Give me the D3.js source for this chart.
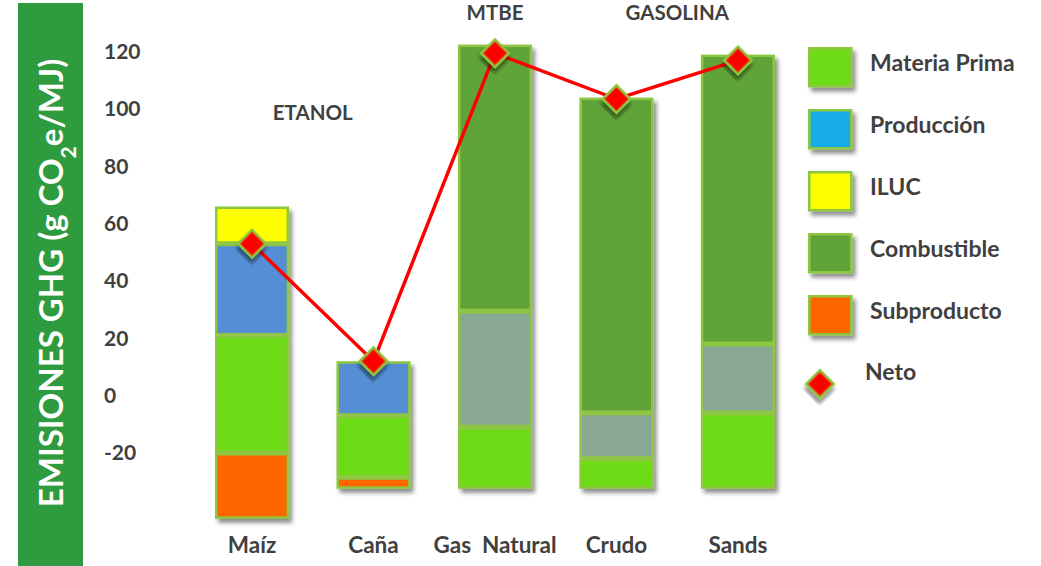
<!DOCTYPE html>
<html>
<head>
<meta charset="utf-8">
<script src="https://cdn.jsdelivr.net/npm/d3@7"></script>
<style>
  body{margin:0;background:#fff;}
  svg{display:block;font-family:Lato,"Open Sans",sans-serif;font-weight:bold;}
</style>
</head>
<body>
<svg id="chart" width="1041" height="566"></svg>
<script>
// categories and group titles
const categories=["Maíz","Caña","Gas  Natural","Crudo","Sands"];
const groupNames=["ETANOL","MTBE","GASOLINA"];
const groupMembers=[["Maíz","Caña"],["Gas  Natural"],["Crudo","Sands"]];
const yTicks=[120,100,80,60,40,20,0,-20];

// each segment is [bottom, top] in g CO2e/MJ, null where absent
const materiaPrima=[[-20,21],[-28.5,-7],[-32.5,-11],[-32.5,-22],[-32.5,-6]];
const produccion=[[21,53],[-7,12],null,null,null];
const iluc=[[53,66],null,null,null,null];
const intermedio=[null,null,[-11,29.5],[-22,-6],[-6,18]];
const combustible=[null,null,[29.5,122.5],[-6,104],[18,119]];
const subproducto=[[-43,-20],[-32.5,-28.5],null,null,null];
const neto=[53,12,119.5,103.5,117];

const seriesNames=["Materia Prima","Producción","ILUC","Combustible","Subproducto"];

window.onload=function(){
	const svg=d3.select("#chart");
	const stroke="#8dc63f",textCol="#404040";

	const defs=svg.append("defs");
	defs.append("filter").attr("id","shadow").attr("x","-20%").attr("y","-20%").attr("width","150%").attr("height","150%")
		.append("feDropShadow").attr("dx",3).attr("dy",4).attr("stdDeviation",2.2)
		.attr("flood-color","#000").attr("flood-opacity",0.45);

	// left title band
	svg.append("rect").attr("x",18).attr("y",3).attr("width",65).attr("height",563).attr("fill","#2e9b3e");
	const yt=svg.append("text").attr("transform","translate(63,283) rotate(-90)")
		.attr("text-anchor","middle").attr("fill","#fff").style("font-size","33px");
	yt.append("tspan").text("EMISIONES GHG (g CO");
	yt.append("tspan").attr("baseline-shift","sub").style("font-size","21px").text("2");
	yt.append("tspan").text("e/MJ)");

	// scales
	const y=d3.scaleLinear().domain([-45,125]).range([524.6,37.4]);
	const x=d3.scaleBand().domain(categories).range([215,775]).paddingInner(0.39).paddingOuter(0);
	const bw=x.bandwidth();

	// y axis (labels only)
	const yAxis=svg.append("g").attr("transform","translate(104,0)")
		.call(d3.axisRight(y).tickValues(yTicks).tickSize(0).tickPadding(0).tickFormat(function(d){return String(d);}));
	yAxis.select(".domain").remove();
	yAxis.selectAll("text").attr("fill",textCol).style("font-size","21px").style("font-family","Lato").style("font-weight","bold");

	// stacked segments
	const segs=[
		{name:"Materia Prima",data:materiaPrima,color:"#6ddc17"},
		{name:"Producción",data:produccion,color:"#558ed5"},
		{name:"ILUC",data:iluc,color:"#ffff00"},
		{name:"intermedio",data:intermedio,color:"#88a795"},
		{name:"Combustible",data:combustible,color:"#60a337"},
		{name:"Subproducto",data:subproducto,color:"#ff6600"}
	];
	const bars=svg.append("g").selectAll("g").data(categories).enter()
		.append("g").attr("filter","url(#shadow)");
	bars.each(function(c,i){
		const g=d3.select(this);
		segs.forEach(function(s){
			const r=s.data[i];
			if(!r) return;
			g.append("rect")
				.attr("x",x(c)+1.25).attr("width",bw-2.5)
				.attr("y",y(r[1])+1.25).attr("height",y(r[0])-y(r[1])-2.5)
				.attr("fill",s.color).attr("stroke",stroke).attr("stroke-width",2.5);
		});
	});

	// category labels
	svg.append("g").selectAll("text").data(categories).enter()
		.append("text").attr("x",function(d){return x(d)+bw/2;}).attr("y",553)
		.attr("text-anchor","middle").attr("fill",textCol).style("font-size","22.5px")
		.style("white-space","pre").attr("xml:space","preserve")
		.text(function(d){return d;});

	// group titles
	svg.append("g").selectAll("text").data(groupNames).enter()
		.append("text")
		.attr("x",function(d,i){return d3.mean(groupMembers[i],function(c){return x(c)+bw/2;});})
		.attr("y",function(d,i){return i==0?120:20;})
		.attr("text-anchor","middle").attr("fill",textCol).style("font-size","20.5px")
		.text(function(d){return d;});

	// neto line and diamonds
	const line=d3.line().x(function(d,i){return x(categories[i])+bw/2;}).y(function(d){return y(d);});
	svg.append("path").datum(neto).attr("d",line).attr("fill","none").attr("stroke","#ff0000").attr("stroke-width",3.5);
	const diamond=d3.symbol().type(d3.symbolSquare).size(380);
	svg.append("g").selectAll("path").data(neto).enter()
		.append("path").attr("d",diamond)
		.attr("transform",function(d,i){return "translate("+(x(categories[i])+bw/2)+","+y(d)+") rotate(45)";})
		.attr("fill","#ff0000").attr("stroke",stroke).attr("stroke-width",2.5).attr("filter","url(#shadow)");

	// legend
	const legendColors=["#6ddc17","#17ace6","#ffff00","#60a337","#ff6600"];
	const leg=svg.append("g").attr("transform","translate(808,47)");
	const items=leg.selectAll("g").data(seriesNames).enter()
		.append("g").attr("transform",function(d,i){return "translate(0,"+(i*62)+")";});
	items.append("rect").attr("x",1.25).attr("y",1.25).attr("width",42).attr("height",38)
		.attr("fill",function(d,i){return legendColors[i];}).attr("stroke",stroke).attr("stroke-width",2.5)
		.attr("filter","url(#shadow)");
	items.append("text").attr("x",62).attr("y",24).attr("fill",textCol).style("font-size","23px")
		.text(function(d){return d;});
	const netoItem=leg.append("g").attr("transform","translate(0,"+(5*62)+")");
	netoItem.append("path").attr("d",diamond).attr("transform","translate(12,27) rotate(45)")
		.attr("fill","#ff0000").attr("stroke",stroke).attr("stroke-width",2.5).attr("filter","url(#shadow)");
	netoItem.append("text").attr("x",57).attr("y",23).attr("fill",textCol).style("font-size","23px").text("Neto");
};
</script>
</body>
</html>
